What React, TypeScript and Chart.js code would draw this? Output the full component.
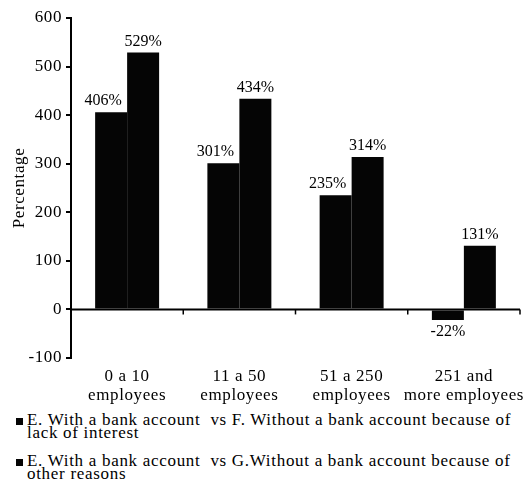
import React, { useEffect, useRef } from "react";
import { Chart, registerables } from "chart.js";

Chart.register(...registerables);

const categories: string[][] = [
  ["0 a 10", "employees"],
  ["11 a 50", "employees"],
  ["51 a 250", "employees"],
  ["251 and", "more employees"],
];

const seriesFName = ["E. With a bank account  vs F. Without a bank account because of", "lack of interest"];
const seriesGName = ["E. With a bank account  vs G.Without a bank account because of", "other reasons"];

const seriesF: number[] = [406, 301, 235, -22];
const seriesG: number[] = [529, 434, 314, 131];

const yTicks: number[] = [-100, 0, 100, 200, 300, 400, 500, 600];

const SERIF = "'Liberation Serif', 'Times New Roman', serif";
const BAR_COLOR = "#050505";

// Slightly widened lettering for the axis text
const textSpacing = {
  id: "textSpacing",
  beforeDraw(chart: any) {
    chart.ctx.letterSpacing = "0.6px";
  },
  afterDraw(chart: any) {
    chart.ctx.letterSpacing = "0px";
  },
};

// Draws the value above each bar (below for negative values)
const valueLabels = {
  id: "valueLabels",
  afterDatasetsDraw(chart: any) {
    const ctx = chart.ctx;
    ctx.save();
    ctx.letterSpacing = "0px";
    ctx.font = `16px ${SERIF}`;
    ctx.fillStyle = "#000";
    ctx.textAlign = "center";
    chart.data.datasets.forEach((ds: any, di: number) => {
      const meta = chart.getDatasetMeta(di);
      const shift = di === 0 ? -8 : 0;
      meta.data.forEach((bar: any, i: number) => {
        const v = ds.data[i];
        const text = `${v}%`;
        if (v >= 0) {
          ctx.textBaseline = "bottom";
          ctx.fillText(text, bar.x + shift, bar.y - 3);
        } else {
          ctx.textBaseline = "top";
          ctx.fillText(text, bar.x, bar.y + 4);
        }
      });
    });
    ctx.restore();
  },
};

// Horizontal zero line with small ticks at the category boundaries
const zeroAxis = {
  id: "zeroAxis",
  afterDatasetsDraw(chart: any) {
    const { ctx, chartArea, scales } = chart;
    const y0 = scales.y.getPixelForValue(0);
    const n = chart.data.labels.length;
    const w = (chartArea.right - chartArea.left) / n;
    ctx.save();
    ctx.strokeStyle = "#000";
    ctx.lineWidth = 2;
    ctx.beginPath();
    ctx.moveTo(chartArea.left, y0);
    ctx.lineTo(chartArea.right, y0);
    ctx.stroke();
    ctx.lineWidth = 1.5;
    for (let i = 1; i <= n; i++) {
      const x = chartArea.left + w * i;
      ctx.beginPath();
      ctx.moveTo(x, y0);
      ctx.lineTo(x, y0 + 5);
      ctx.stroke();
    }
    ctx.restore();
  },
};

export default function App() {
  const canvasRef = useRef<HTMLCanvasElement | null>(null);

  useEffect(() => {
    if (!canvasRef.current) return;
    const chart = new Chart(canvasRef.current, {
      type: "bar",
      data: {
        labels: categories,
        datasets: [
          { label: seriesFName.join(" "), data: seriesF, backgroundColor: BAR_COLOR, categoryPercentage: 0.57, barPercentage: 1.0 },
          { label: seriesGName.join(" "), data: seriesG, backgroundColor: BAR_COLOR, categoryPercentage: 0.57, barPercentage: 1.0 },
        ],
      },
      options: {
        animation: false,
        responsive: false,
        maintainAspectRatio: false,
        layout: { padding: { top: 18, right: 5, left: 0, bottom: 0 } },
        plugins: {
          legend: { display: false },
          tooltip: { enabled: false },
        },
        scales: {
          x: {
            grid: { display: false },
            border: { display: false },
            ticks: {
              color: "#000",
              font: { family: SERIF, size: 17, lineHeight: 1.1 },
              padding: 1,
              maxRotation: 0,
              autoSkip: false,
            },
            afterFit(scale: any) {
              scale.height = 52;
              scale.paddingLeft = 0;
              scale.paddingRight = 0;
            },
          },
          y: {
            min: -100,
            max: 600,
            afterBuildTicks(scale: any) {
              scale.ticks = yTicks.map((v) => ({ value: v }));
            },
            grid: { drawOnChartArea: false, drawTicks: true, tickLength: 5, color: "#000", lineWidth: 2 },
            border: { display: true, color: "#000", width: 2 },
            ticks: {
              color: "#000",
              font: { family: SERIF, size: 17 },
              padding: 4,
            },
            title: {
              display: true,
              text: "Percentage",
              color: "#000",
              font: { family: SERIF, size: 17 },
              padding: { top: 9, bottom: 0 },
            },
            afterFit(scale: any) {
              scale.width = 71;
            },
          },
        },
      },
      plugins: [textSpacing, valueLabels, zeroAxis],
    });
    return () => chart.destroy();
  }, []);

  const legendRow = (lines: string[], top: number) => (
    <div
      style={{
        position: "absolute",
        left: 16,
        top,
        display: "flex",
        alignItems: "flex-start",
        fontFamily: SERIF,
        fontSize: 17,
        lineHeight: "13px",
        letterSpacing: "0.7px",
        color: "#000",
        whiteSpace: "pre",
      }}
    >
      <span style={{ width: 7, height: 7, background: BAR_COLOR, marginTop: 5, marginRight: 4, flex: "none" }} />
      <span>{lines.join("\n")}</span>
    </div>
  );

  return (
    <div style={{ position: "fixed", left: 0, top: 0, width: 525, height: 489, background: "#fff" }}>
      <canvas ref={canvasRef} width={525} height={410} style={{ position: "absolute", left: 0, top: 0 }} />
      {legendRow(seriesFName, 413)}
      {legendRow(seriesGName, 454)}
    </div>
  );
}
